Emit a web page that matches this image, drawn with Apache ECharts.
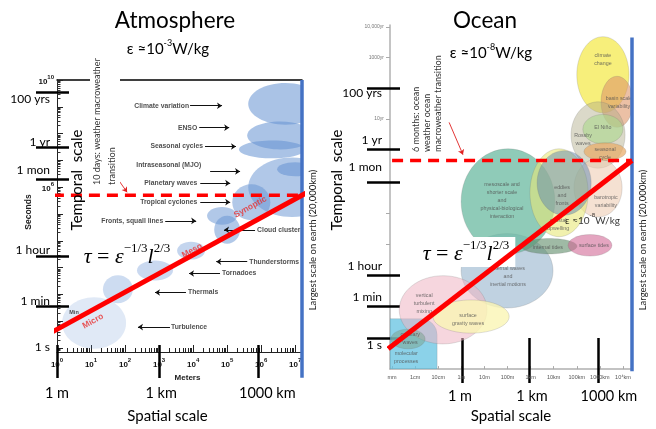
<!DOCTYPE html>
<html><head><meta charset="utf-8">
<script src="https://cdn.jsdelivr.net/npm/echarts@6.0.0/dist/echarts.min.js"></script>
<style>html,body{margin:0;padding:0;background:#fff;}#c{width:656px;height:429px;}</style>
</head><body><div id="c"></div>
<script>
// Units: x = log10(length / m), y = log10(time / s)
// ---------------- Atmosphere ----------------
const atmDecades = [0,1,2,3,4,5,6,7];
const atmYDecades = [0,1,2,3,4,5,6,7,8,9,10];
const atmYLabelled = [6,10];
const atmPhenomena = ['Climate variation','ENSO','Seasonal cycles','Intraseasonal (MJO)','Planetary waves','Tropical cyclones','Fronts, squall lines','Cloud cluster','Thunderstorms','Tornadoes','Thermals','Turbulence'];
// [centre x, centre y, half-width (decades), half-height (decades)]
const atmEllipses = [
  [6.71,9.11,1.09,0.78],[6.56,7.93,0.97,0.52],[6.32,7.41,0.97,0.33],[6.91,6.00,1.29,1.11],
  [7.00,6.67,0.53,0.26],[5.71,5.44,0.56,0.67],[4.85,4.93,0.44,0.33],[5.00,4.41,0.38,0.52],
  [3.94,3.63,0.41,0.33],[2.88,2.89,0.53,0.37],[1.79,2.19,0.44,0.52],[1.09,0.93,0.94,0.96]
];
// arrows [x1,y1,x2,y2]
const atmArrows = [
  [3.91,9.04,4.85,9.04],[4.18,8.22,5.06,8.22],[4.35,7.52,5.26,7.52],[4.50,6.59,5.38,6.59],
  [4.21,6.15,5.09,6.15],[4.21,5.44,5.09,5.44],[3.18,4.74,4.09,4.74],[5.82,4.41,4.91,4.41],
  [5.59,3.22,4.68,3.22],[4.79,2.78,3.88,2.78],[3.79,2.07,2.88,2.07],[3.32,0.78,2.38,0.78]
];
const atmLabelAnchors = [
  [3.88,9.04],[4.12,8.22],[4.29,7.52],[4.24,6.81],[4.12,6.15],[4.12,5.44],[3.12,4.74],
  [5.88,4.41],[5.65,3.22],[4.85,2.78],[3.85,2.07],[3.35,0.78]
];
const atmScaleNames = ['Micro','Meso','Synoptic'];
const atmScaleAt = [[1.06,1.00],[3.97,3.63],[5.68,5.26]];
const atmTau = [[-0.41,0.41],[7.53,5.93]];
const atmTransition = [[-0.12,5.70],[7.20,5.70]];
const atmPointer = [[1.79,6.30],[2.06,5.81]];
const atmEarth = [[7.20,10.0],[7.20,-1.11]];
const atmMinLabelAt = [0.50,1.33];

// ---------------- Ocean ----------------
const oceanDecades = [-3,-2,-1,0,1,2,3,4,5,6,7];
const oceanXLabels = ['mm','1cm','10cm','1m','10m','100m','1km','10km','100km','1000km','10\u2074km'];
const oceanYTicks = [11.5,10.5,9.5,8.5,7.5,6.45,5.44,4.42];
const oceanYLabelAt = [11.5,10.5,8.5];
const oceanYLabels = ['10,000yr','1000yr','10yr'];
const oceanPhenomena = ['climate change','basin scale variability','Rossby waves','barotropic variability','El Niño','seasonal cycle','internal waves','mesoscale','coastal upwelling','eddies and fronts','internal tides','surface tides','vertical turbulent mixing','surface gravity waves','capillary waves'];
const oceanEllipses = [
  [6.13,9.94,1.13,1.24],[6.74,9.06,0.69,0.83],[5.92,7.98,1.17,1.08],[5.92,6.26,1.04,0.95],
  [6.13,8.17,0.87,0.48],[6.22,7.44,0.91,0.29],[1.98,3.56,1.99,1.21],[2.02,5.82,2.03,1.71],
  [4.23,6.10,1.26,1.43],[4.45,6.42,1.17,1.05],[3.80,4.36,1.21,0.25],[5.57,4.39,0.95,0.35],
  [-0.79,2.29,1.90,1.11],[0.42,2.07,1.65,0.54],[-2.31,1.34,0.74,0.32]
];
// molecular processes box [x0, y0, x1, y1]
const oceanMolecular = [[-3.09,0.36,-1.05,2.00]];
const oceanTexts = [
  ['climate\nchange',6.13,10.45],['basin scale\nvariability',6.83,9.02],['Rossby\nwaves',5.27,7.82],
  ['El Niño',6.13,8.23],['seasonal\ncycle',6.22,7.37],['barotropic\nvariability',6.26,5.82],
  ['mesoscale and\nshorter scale\nand\nphysical-biological\ninteraction',1.76,5.85],
  ['eddies\nand\nfronts',4.36,6.01],['coastal\nupwelling',4.19,5.06],['internal tides',3.75,4.33],
  ['surface tides',5.74,4.39],['internal waves\nand\ninertial motions',2.02,3.37],
  ['vertical\nturbulent\nmixing',-1.61,2.48],['surface\ngravity waves',0.29,1.98],
  ['capillary\nwaves',-2.22,1.37],['molecular\nprocesses',-2.39,0.74]
];
const oceanTau = [[-3.17,1.02],[7.39,7.15]];
const oceanTransition = [[-3.0,7.15],[7.39,7.15]];
const oceanPointer = [[-0.53,8.39],[0.07,7.34]];
const oceanEarth = [[7.39,11.15],[7.39,0.29]];
const oceanEpsAt = [4.49,5.25];

// ---------------- overlay scales ----------------
const timeLabels = ['100 yrs','1 yr','1 mon','1 hour','1 min','1 s'];
const atmTimeTickAt = [9.56,7.48,6.30,3.44,1.56];
const atmTimeLabelAt = [9.30,7.67,6.63,3.67,1.74,0.04];
const oceanTimeTickAt = [9.50,7.50,6.45,3.40,2.42,1.37];
const oceanTimeLabelAt = [9.34,7.82,6.93,3.72,2.71,1.15];
const spatialLabels = ['1 m','1 km','1000 km'];
const atmSpatialTickAt = [0,3,5.91];
const atmSpatialLabelAt = [0,3.06,6.18];
const oceanSpatialTickAt = [0.03,2.93,5.92];
const oceanSpatialLabelAt = [-0.06,3.06,6.39];

// ---------------- styles ----------------
const atmAlpha = [0.55,0.55,0.55,0.5,0.55,0.5,0.5,0.5,0.38,0.34,0.32,0.2];
const oceanColors = ['rgba(246,236,100,0.85)','rgba(222,150,105,0.6)','rgba(175,170,135,0.45)','rgba(238,205,180,0.6)',
  'rgba(170,215,140,0.6)','rgba(232,170,100,0.7)','rgba(150,180,205,0.6)','rgba(105,185,160,0.75)',
  'rgba(232,232,120,0.6)','rgba(95,135,175,0.5)','rgba(95,140,105,0.6)','rgba(210,105,150,0.6)',
  'rgba(238,180,195,0.55)','rgba(250,245,180,0.8)','rgba(125,165,145,0.55)'];
const ATM_X = [0,7.2], ATM_Y = [-0.15,10], OC_X = [-3.09,7.39], OC_Y = [0.36,11.56];
const SANS = 'Lato', ARIAL = 'Liberation Sans', SERIF = 'Liberation Serif';

function minorLog(lo, hi){ const r=[]; for(let n=Math.floor(lo);n<hi;n++){for(let k=2;k<=9;k++){const v=n+Math.log10(k); if(v>lo&&v<hi) r.push(v);}} return r; }
function pick(vals, labels){ return function(v){ const i=vals.findIndex(a=>Math.abs(a-v)<1e-6); return i<0?'':labels[i]; }; }
const supRich = {
  b:{fontSize:8,fontWeight:'bold',fontFamily:ARIAL,color:'#111',verticalAlign:'bottom',lineHeight:12},
  s:{fontSize:6,fontWeight:'bold',fontFamily:ARIAL,color:'#111',verticalAlign:'top',lineHeight:6}
};
function ellipseRender(fillFn, stroke){
  return function(params, api){
    const cx=api.value(0), cy=api.value(1), rx=api.value(2), ry=api.value(3);
    const c=api.coord([cx,cy]), ex=api.coord([cx+rx,cy]), ey=api.coord([cx,cy+ry]);
    return {type:'ellipse', shape:{cx:c[0],cy:c[1],rx:Math.abs(ex[0]-c[0]),ry:Math.abs(c[1]-ey[1])},
      style:{fill:fillFn(params.dataIndex), stroke:stroke||null, lineWidth:stroke?0.6:0}};
  };
}
function redLine(data, gi, dashed){
  return {type:'line', xAxisIndex:gi?4:0, yAxisIndex:gi?3:0, data:data, symbol:'none', clip:false, z:5, silent:true,
    lineStyle:{color:'#ff0000', width:dashed?3.5:5, type:dashed?[11,7]:'solid'}};
}
function blueLine(data, gi){
  return {type:'line', xAxisIndex:gi?4:0, yAxisIndex:gi?3:0, data:data, symbol:'none', clip:false, z:4, silent:true,
    lineStyle:{color:'#4472c4', width:3.5}};
}
function pointer(data, gi){
  return {type:'lines', coordinateSystem:'cartesian2d', xAxisIndex:gi?4:0, yAxisIndex:gi?3:0, z:5, silent:true,
    symbol:['none','arrow'], symbolSize:5, lineStyle:{color:'#e02020', width:0.9, opacity:1},
    data:[{coords:data}]};
}
const formulaRich = {
  i:{fontFamily:SERIF,fontStyle:'italic',fontSize:22,color:'#000',verticalAlign:'bottom',lineHeight:26},
  r:{fontFamily:SERIF,fontSize:22,color:'#000',verticalAlign:'bottom',lineHeight:26},
  s:{fontFamily:SERIF,fontSize:13,color:'#000',verticalAlign:'top',lineHeight:13}
};
const formulaText = '{i|\u03c4}{r| = }{i|\u03b5}{s|\u22121/3}{i|l}{s|2/3}';
const epsRich = (fs)=>({n:{fontFamily:SANS,fontSize:fs,color:'#000',verticalAlign:'bottom',lineHeight:fs+3},
  s:{fontFamily:SANS,fontSize:Math.round(fs*0.62),color:'#000',verticalAlign:'top',lineHeight:Math.round(fs*0.62)}});

const option = {
  animation:false,
  backgroundColor:'#fff',
  grid:[
    {left:57, top:80, width:245, height:274},
    {left:390, top:25, width:242, height:353}
  ],
  xAxis:[
    {gridIndex:0, type:'value', min:ATM_X[0], max:ATM_X[1], position:'bottom', splitLine:{show:false},
     axisLine:{onZero:false, lineStyle:{color:'#222',width:1}},
     axisTick:{inside:true, length:7, customValues:atmDecades, lineStyle:{color:'#222'}},
     axisLabel:{customValues:atmDecades, margin:5, formatter:v=>'{b|10}{s|'+Math.round(v)+'}', rich:supRich},
     name:'Meters', nameLocation:'middle', nameGap:18,
     nameTextStyle:{fontSize:8, fontWeight:'bold', fontFamily:ARIAL, color:'#222', padding:[0,0,0,16]}},
    {gridIndex:0, type:'value', min:ATM_X[0], max:ATM_X[1], position:'bottom', splitLine:{show:false},
     axisLine:{show:false,onZero:false}, axisLabel:{show:false},
     axisTick:{inside:true, length:4, customValues:minorLog(ATM_X[0],ATM_X[1]), lineStyle:{color:'#222'}}},
    {gridIndex:0, type:'value', min:ATM_X[0], max:ATM_X[1], position:'bottom', offset:26, splitLine:{show:false},
     axisLine:{show:false,onZero:false},
     axisTick:{inside:true, length:33, customValues:atmSpatialTickAt, lineStyle:{color:'#000',width:2.5}},
     axisLabel:{customValues:atmSpatialLabelAt, formatter:pick(atmSpatialLabelAt,spatialLabels), fontSize:14.5, fontFamily:SANS, color:'#000', margin:8},
     name:'Spatial scale', nameLocation:'middle', nameGap:31,
     nameTextStyle:{fontSize:15, fontFamily:SANS, color:'#000', padding:[0,24,0,0]}},
    {gridIndex:0, type:'value', min:ATM_X[0], max:ATM_X[1], position:'top', splitLine:{show:false},
     axisLine:{show:true,onZero:false,lineStyle:{color:'#000',width:1.5}}, axisTick:{show:false}, axisLabel:{show:false}},
    {gridIndex:1, type:'value', min:OC_X[0], max:OC_X[1], position:'bottom', splitLine:{show:false},
     axisLine:{onZero:false, lineStyle:{color:'#b0b0b0',width:1.5}},
     axisTick:{inside:true, length:3, customValues:oceanDecades, lineStyle:{color:'#aaa'}},
     axisLabel:{customValues:oceanDecades, formatter:pick(oceanDecades,oceanXLabels), fontSize:5.5, fontFamily:ARIAL, color:'#555', margin:5}},
    {gridIndex:1, type:'value', min:OC_X[0], max:OC_X[1], position:'bottom', offset:14, splitLine:{show:false},
     axisLine:{show:false,onZero:false},
     axisTick:{inside:true, length:45, customValues:oceanSpatialTickAt, lineStyle:{color:'#000',width:2.5}},
     axisLabel:{customValues:oceanSpatialLabelAt, formatter:pick(oceanSpatialLabelAt,spatialLabels), fontSize:14.5, fontFamily:SANS, color:'#000', margin:6},
     name:'Spatial scale', nameLocation:'middle', nameGap:19,
     nameTextStyle:{fontSize:15, fontFamily:SANS, color:'#000'}}
  ],
  yAxis:[
    {gridIndex:0, type:'value', min:ATM_Y[0], max:ATM_Y[1], position:'left', splitLine:{show:false},
     axisLine:{onZero:false, lineStyle:{color:'#222',width:1}},
     axisTick:{inside:true, length:6, customValues:atmYDecades, lineStyle:{color:'#222'}},
     axisLabel:{customValues:atmYLabelled, margin:3, formatter:v=>'{b|10}{s|'+Math.round(v)+'}', rich:supRich}},
    {gridIndex:0, type:'value', min:ATM_Y[0], max:ATM_Y[1], position:'left', splitLine:{show:false},
     axisLine:{show:false,onZero:false}, axisLabel:{show:false},
     axisTick:{inside:true, length:3.5, customValues:minorLog(ATM_Y[0],ATM_Y[1]), lineStyle:{color:'#333'}}},
    {gridIndex:0, type:'value', min:ATM_Y[0], max:ATM_Y[1], position:'left', offset:-12, splitLine:{show:false},
     axisLine:{show:false,onZero:false},
     axisTick:{length:33, customValues:atmTimeTickAt, lineStyle:{color:'#000',width:2.5}},
     axisLabel:{customValues:atmTimeLabelAt, formatter:pick(atmTimeLabelAt,timeLabels), fontSize:12, fontFamily:SANS, color:'#000', margin:19}},
    {gridIndex:1, type:'value', min:OC_Y[0], max:OC_Y[1], position:'left', splitLine:{show:false},
     axisLine:{onZero:false, lineStyle:{color:'#b0b0b0',width:1.5}},
     axisTick:{length:4, customValues:oceanYTicks, lineStyle:{color:'#aaa'}},
     axisLabel:{customValues:oceanYLabelAt, formatter:pick(oceanYLabelAt,oceanYLabels), fontSize:5, fontFamily:ARIAL, color:'#777', margin:6}},
    {gridIndex:1, type:'value', min:OC_Y[0], max:OC_Y[1], position:'left', offset:-10, splitLine:{show:false},
     axisLine:{show:false,onZero:false},
     axisTick:{length:33, customValues:oceanTimeTickAt, lineStyle:{color:'#000',width:2.5}},
     axisLabel:{customValues:oceanTimeLabelAt, formatter:pick(oceanTimeLabelAt,timeLabels), fontSize:12, fontFamily:SANS, color:'#000', margin:18}}
  ],
  series:[
    // ---- atmosphere
    {type:'custom', xAxisIndex:0, yAxisIndex:0, clip:true, z:1, silent:true,
     renderItem:ellipseRender(i=>'rgba(100,145,210,'+atmAlpha[i]+')'), encode:{x:0,y:1}, data:atmEllipses},
    {type:'lines', coordinateSystem:'cartesian2d', xAxisIndex:0, yAxisIndex:0, z:3, silent:true,
     symbol:['none','arrow'], symbolSize:5, lineStyle:{color:'#111',width:1.1,opacity:1},
     data:atmArrows.map(a=>({coords:[[a[0],a[1]],[a[2],a[3]]]}))},
    {type:'scatter', xAxisIndex:0, yAxisIndex:0, symbolSize:0, z:3, silent:true, clip:false,
     data:atmLabelAnchors.map((p,i)=>({value:p, name:atmPhenomena[i], label:{align: atmArrows[i][2]>atmArrows[i][0]?'right':'left'}})),
     label:{show:true, position:'inside', formatter:'{b}', fontSize:6.8, fontWeight:'bold', fontFamily:ARIAL, color:'#222'}},
    {type:'scatter', xAxisIndex:0, yAxisIndex:0, symbolSize:0, z:3, silent:true, clip:false,
     data:[{value:atmMinLabelAt, name:'Min'}],
     label:{show:true, position:'inside', formatter:'{b}', fontSize:5.5, fontWeight:'bold', fontFamily:ARIAL, color:'#222'}},
    redLine(atmTau,0,false), redLine(atmTransition,0,true), blueLine(atmEarth,0), pointer(atmPointer,0),
    {type:'scatter', xAxisIndex:0, yAxisIndex:0, symbolSize:0, z:6, silent:true, clip:false,
     data:atmScaleAt.map((p,i)=>({value:p, name:atmScaleNames[i]})),
     label:{show:true, position:'inside', rotate:29, formatter:'{b}', fontSize:8.5, fontWeight:'bold', fontFamily:ARIAL, color:'#e83030'}},
    // ---- ocean
    {type:'custom', xAxisIndex:4, yAxisIndex:3, clip:true, z:1, silent:true,
     renderItem:function(params, api){
       const a=api.coord([api.value(0),api.value(3)]), b=api.coord([api.value(2),api.value(1)]);
       return {type:'rect', shape:{x:a[0],y:a[1],width:b[0]-a[0],height:b[1]-a[1],r:[0,16,0,0]},
         style:{fill:'rgba(100,195,225,0.75)',stroke:'rgba(110,110,110,0.35)',lineWidth:0.6}};
     }, encode:{x:0,y:1}, data:oceanMolecular},
    {type:'custom', xAxisIndex:4, yAxisIndex:3, clip:true, z:1, silent:true,
     renderItem:ellipseRender(i=>oceanColors[i],'rgba(110,110,110,0.35)'), encode:{x:0,y:1}, data:oceanEllipses},
    {type:'scatter', xAxisIndex:4, yAxisIndex:3, symbolSize:0, z:3, silent:true, clip:false,
     data:oceanTexts.map(t=>({value:[t[1],t[2]], name:t[0]})),
     label:{show:true, position:'inside', formatter:'{b}', fontSize:5.3, lineHeight:8, fontFamily:ARIAL, color:'#505050', align:'center'}},
    redLine(oceanTau,1,false), redLine(oceanTransition,1,true), blueLine(oceanEarth,1), pointer(oceanPointer,1),
    {type:'scatter', xAxisIndex:4, yAxisIndex:3, symbolSize:0, z:6, silent:true, clip:false,
     data:[{value:oceanEpsAt, name:'eps'}],
     label:{show:true, position:'inside', align:'left', formatter:'{n|\u03b5 \u224810}{s|-8}{n|W/kg}', rich:epsRich(10)}}
  ],
  graphic:[
    {type:'text', x:175, y:21, z:10, style:{text:'Atmosphere', fontSize:22.5, fontFamily:SANS, fill:'#000', align:'center', verticalAlign:'middle'}},
    {type:'text', x:168, y:48, z:10, style:{text:'{n|\u03b5 \u224810}{s|-3}{n|W/kg}', rich:epsRich(15), align:'center', verticalAlign:'middle'}},
    {type:'text', x:485, y:21, z:10, style:{text:'Ocean', fontSize:22.5, fontFamily:SANS, fill:'#000', align:'center', verticalAlign:'middle'}},
    {type:'text', x:491, y:52, z:10, style:{text:'{n|\u03b5 \u224810}{s|-8}{n|W/kg}', rich:epsRich(15), align:'center', verticalAlign:'middle'}},
    {type:'text', x:77, y:180, z:10, rotation:Math.PI/2, style:{text:'Temporal  scale', fontSize:15, fontFamily:SANS, fill:'#000', align:'center', verticalAlign:'middle'}},
    {type:'text', x:337, y:180, z:10, rotation:Math.PI/2, style:{text:'Temporal  scale', fontSize:15, fontFamily:SANS, fill:'#000', align:'center', verticalAlign:'middle'}},
    {type:'text', x:29, y:212, z:10, rotation:Math.PI/2, style:{text:'Seconds', fontSize:8.5, fontWeight:'bold', fontFamily:ARIAL, fill:'#222', align:'center', verticalAlign:'middle'}},
    {type:'text', x:313, y:240, z:10, rotation:Math.PI/2, style:{text:'Largest scale on earth (20,000km)', fontSize:9.5, fontFamily:SANS, fill:'#222', align:'center', verticalAlign:'middle'}},
    {type:'text', x:643, y:240, z:10, rotation:Math.PI/2, style:{text:'Largest scale on earth (20,000km)', fontSize:9.5, fontFamily:SANS, fill:'#222', align:'center', verticalAlign:'middle'}},
    {type:'text', x:90, y:185, z:10, rotation:Math.PI/2, style:{text:'10 days: weather macroweather\ntransition', fontSize:9, lineHeight:15, fontFamily:SANS, fill:'#333', align:'left', verticalAlign:'top', backgroundColor:'#fff'}},
    {type:'text', x:410.5, y:152, z:10, rotation:Math.PI/2, style:{text:'6 months: ocean\nweather ocean\nmacroweather transition', fontSize:9, lineHeight:11, fontFamily:SANS, fill:'#333', align:'left', verticalAlign:'top'}},
    {type:'text', x:127, y:255, z:3, style:{text:formulaText, rich:formulaRich, align:'center', verticalAlign:'middle'}},
    {type:'text', x:466, y:252, z:3, style:{text:formulaText, rich:formulaRich, align:'center', verticalAlign:'middle', backgroundColor:'#fff', padding:[2,6,2,6]}}
  ]
};
const chart = echarts.init(document.getElementById('c'));
chart.setOption(option);
</script>
</body></html>
